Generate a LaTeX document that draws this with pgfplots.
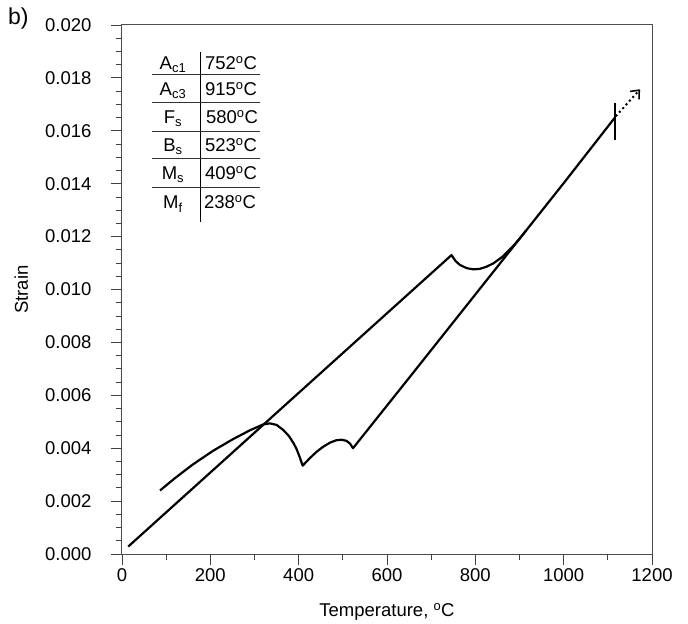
\documentclass[border=0pt]{standalone}
\usepackage{pgfplots}
\pgfplotsset{compat=1.18}
\usetikzlibrary{arrows.meta}
\usepackage{fontspec}
\setmainfont{Liberation Sans}
\begin{document}
\begin{tikzpicture}[font=\fontsize{18.5bp}{22bp}\selectfont]
\begin{axis}[
  at={(0,0)}, anchor=south west,
  scale only axis, width=530bp, height=529bp,
  xmin=0, xmax=1200, ymin=0, ymax=0.02,
  xtick={0,200,400,600,800,1000,1200},
  minor x tick num=1,
  ytick={0,0.002,0.004,0.006,0.008,0.010,0.012,0.014,0.016,0.018,0.020},
  minor y tick num=3,
  scaled y ticks=false,
  tick align=outside, xtick pos=left, ytick pos=left,
  major tick length=11bp, minor tick length=6bp,
  tick style={black!75, line width=0.8bp},
  x axis line style={black!45, line width=1bp},
  y axis line style={black!70, line width=1bp},
  /pgf/number format/assume math mode=true,
  /pgf/number format/set thousands separator={},
  yticklabel style={xshift=-16bp, /pgf/number format/fixed, /pgf/number format/fixed zerofill, /pgf/number format/precision=3},
  xlabel={Temperature, \textsuperscript{o}C},
  ylabel={Strain},
  xlabel style={at={(axis description cs:0.5,-0.109)}, anchor=center},
  ylabel style={at={(axis description cs:-0.19,0.5)}, anchor=center},
  clip=false,
]
% heating
\addplot[black, line width=2.2bp, line join=round] coordinates {
(14,0.00028) (746,0.0113) (755,0.01108) (765,0.01093) (780,0.01081) (795,0.01076)
(810,0.01078) (825,0.01086) (841,0.01099) (860,0.01122) (886,0.01165) (901,0.01194)
(915,0.01223) (1000,0.01402) (1116,0.0165)};
% cooling
\addplot[black, line width=2.2bp, line join=round] coordinates {
(915,0.01223) (652,0.0067) (523,0.0040) (516,0.00418) (508,0.00428) (497,0.00432)
(485,0.00430) (471,0.00421) (455,0.00405) (441,0.00387) (425,0.00362) (409,0.00334)
(402,0.00368) (395,0.00398) (388,0.00420) (378,0.00446) (365,0.00469) (350,0.00488)
(335,0.00494) (320,0.00490) (290,0.00468) (250,0.00433) (206,0.00390) (160,0.00338)
(120,0.00287) (86,0.00240)};
% marker
\addplot[black, line width=1.6bp] coordinates {(1116,0.01565) (1116,0.01704)};
% dotted arrow
\addplot[black, line width=2bp, dash pattern=on 2bp off 3bp,
  -{Straight Barb[length=7bp,width=12bp,line width=1.6bp]}] coordinates {(1118,0.01655) (1173,0.01757)};
\end{axis}
% panel label
\node[font=\fontsize{23bp}{26bp}\selectfont, anchor=base west, inner sep=0pt] at (-114bp,529bp) {b)};
% table
\draw[black, line width=1bp] (78bp,502bp) -- (78bp,332bp);
\foreach \yy in {479,451,422,395,366} {\draw[black!80, line width=1bp] (30bp,\yy bp) -- (138bp,\yy bp);}
\node[anchor=base, inner sep=0pt] at (51bp,484.4bp) {A\textsubscript{c1}};
\node[anchor=base, inner sep=0pt] at (109bp,484.4bp) {752\textsuperscript{o}C};
\node[anchor=base, inner sep=0pt] at (51bp,458.4bp) {A\textsubscript{c3}};
\node[anchor=base, inner sep=0pt] at (109bp,458.4bp) {915\textsuperscript{o}C};
\node[anchor=base, inner sep=0pt] at (51bp,430.4bp) {F\textsubscript{s}};
\node[anchor=base, inner sep=0pt] at (110bp,430.4bp) {580\textsuperscript{o}C};
\node[anchor=base, inner sep=0pt] at (51bp,402.4bp) {B\textsubscript{s}};
\node[anchor=base, inner sep=0pt] at (109bp,402.4bp) {523\textsuperscript{o}C};
\node[anchor=base, inner sep=0pt] at (51bp,374.4bp) {M\textsubscript{s}};
\node[anchor=base, inner sep=0pt] at (109bp,374.4bp) {409\textsuperscript{o}C};
\node[anchor=base, inner sep=0pt] at (51bp,345.4bp) {M\textsubscript{f}};
\node[anchor=base, inner sep=0pt] at (108bp,345.4bp) {238\textsuperscript{o}C};
\pgfresetboundingbox
\path[use as bounding box] (-122bp,-70bp) rectangle (566bp,554bp);
\end{tikzpicture}
\end{document}
